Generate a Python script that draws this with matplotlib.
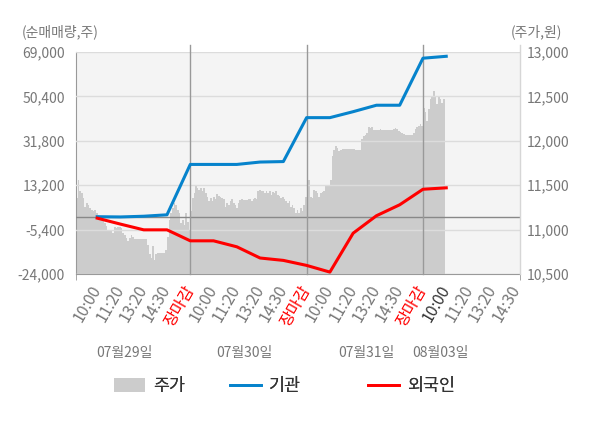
"""Net buying by institutions / foreigners vs. share price (4 sessions)."""
import matplotlib
matplotlib.use("Agg")
import matplotlib.pyplot as plt
import matplotlib.transforms as mtransforms
import numpy as np
from matplotlib.lines import Line2D
from matplotlib.patches import Patch

plt.rcParams["font.family"] = ["Noto Sans CJK KR", "DejaVu Sans"]

# ---- data -------------------------------------------------------------
tick_labels = ["10:00", "11:20", "13:20", "14:30", "장마감",
               "10:00", "11:20", "13:20", "14:30", "장마감",
               "10:00", "11:20", "13:20", "14:30", "장마감",
               "10:00", "11:20", "13:20", "14:30"]
day_labels = ["07월29일", "07월30일", "07월31일", "08월03일"]

# cumulative net buying (shares) at each time slot
inst = [0, -100, 200, 800, 21900, 21900, 21900, 22900, 23100,
        41500, 41500, 44000, 46700, 46700, 66400, 67200]
foreign = [-600, -3100, -5500, -5500, -10100, -10100, -12600, -17300, -18300,
           -20400, -23200, -6900, 400, 5000, 11500, 12100]

# intraday share price (won), one list per session
price_0729 = [11360, 11560, 11430, 11410, 11360, 11260, 11300, 11280, 11240, 11220,
              11210, 11220, 11190, 11170, 11130, 11110, 11120, 11070, 11040, 11000,
              10980, 10980, 10960, 11030, 11020, 11030, 11030, 11020, 10960, 10940,
              10900, 10870, 10900, 10940, 10920, 10890, 10890, 10890, 10890, 10890,
              10890, 10890, 10890, 10830, 10730, 10680, 10810, 10660, 10730, 10740,
              10740, 10740, 10740, 10740, 10770, 10920, 11110, 11190, 11240, 11300,
              11280, 11220, 11190, 11070, 11110, 11050, 11190, 11090, 11000]
price_0730 = [11210, 11360, 11410, 11490, 11470, 11450, 11470, 11430, 11470, 11410,
              11370, 11320, 11360, 11320, 11370, 11340, 11400, 11380, 11370, 11360,
              11340, 11260, 11300, 11280, 11320, 11340, 11300, 11280, 11240, 11300,
              11330, 11340, 11330, 11330, 11330, 11350, 11340, 11320, 11340, 11360,
              11340, 11430, 11450, 11430, 11440, 11410, 11430, 11410, 11430, 11390,
              11420, 11410, 11430, 11390, 11380, 11360, 11370, 11340, 11320, 11300,
              11320, 11260, 11280, 11240, 11190, 11220, 11190, 11240, 11210, 11280,
              11370]
price_0731 = [11750, 11560, 11370, 11360, 11450, 11430, 11410, 11370, 11410, 11420,
              11430, 11490, 11500, 11490, 11560, 11830, 11900, 11940, 11920, 11880,
              11900, 11910, 11910, 11910, 11910, 11910, 11910, 11910, 11910, 11900,
              11900, 11900, 11900, 12020, 12050, 12070, 12090, 12150, 12140, 12150,
              12120, 12120, 12120, 12120, 12130, 12120, 12120, 12120, 12120, 12120,
              12120, 12120, 12130, 12140, 12130, 12110, 12100, 12090, 12080, 12070,
              12070, 12070, 12070, 12070, 12090, 12130, 12150, 12170, 12190, 12170]
price_0803 = [12370, 12320, 12220, 12360, 12470, 12490, 12560, 12510, 12410, 12490,
              12470, 12430, 12470, 12410]

sessions = [price_0729, price_0730, price_0731, price_0803]
session_start = [-0.91, 4, 9, 14]
session_end = [4, 9, 14, 15]
day_label_x = [1.19, 6.31, 11.55, 14.73]

# ---- figure -----------------------------------------------------------
fig = plt.figure(figsize=(6, 4.28), dpi=100)
ax = fig.add_axes([76 / 600, 1 - 274 / 428, 444 / 600, 222 / 428])
ax.set_facecolor("#f4f4f4")
ax2 = ax.twinx()

px, py = [], []
for p, s, e in zip(sessions, session_start, session_end):
    n = len(p)
    px.extend(s + (np.arange(n) + 0.5) * (e - s) / n)
    py.extend(p)
px = np.array(px)
py = np.array(py)
ax.fill_between(px, py, 10500, color="#cccccc", lw=0, step="mid", zorder=1)

ax.set_xlim(-0.91, 18.17)
ax.set_ylim(10500, 13000)
ax.set_yticks(np.arange(10500, 13001, 500))
ax.set_yticklabels([f"{int(v):,}" for v in np.arange(10500, 13001, 500)])
ax.yaxis.set_ticks_position("right")
ax.grid(axis="y", color="#dcdcdc", lw=1)
ax.set_axisbelow(False)
ax.tick_params(axis="y", length=0, pad=5, labelsize=10, labelcolor="#777777")

slots = np.arange(len(inst))
ax2.plot(slots, inst, color="#0683cc", lw=2.2, zorder=5)
ax2.plot(slots, foreign, color="#ff0000", lw=2.2, zorder=5)
ax2.axhline(0, color="#888888", lw=1, zorder=3)
ax2.set_ylim(-24000, 69000)
lt = np.arange(-24000, 69001, 18600)
ax2.set_yticks(lt)
ax2.set_yticklabels([f"{int(v):,}" for v in lt])
ax2.yaxis.set_ticks_position("left")
ax2.tick_params(axis="y", length=0, pad=8, labelsize=10, labelcolor="#777777")

for b in [4, 9, 14]:
    ax2.axvline(b, ymax=1.032, color="#999999", lw=1, clip_on=False, zorder=3)
ax2.axvline(18.17, ymax=1.032, color="#d6d6d6", lw=1, clip_on=False, zorder=3)

for a in (ax, ax2):
    for sp in a.spines.values():
        sp.set_visible(False)
ax.spines["left"].set_visible(True)
ax.spines["bottom"].set_visible(True)
ax.spines["left"].set_color("#999999")
ax.spines["bottom"].set_color("#999999")

ax.set_xticks(np.arange(len(tick_labels)))
ax.set_xticklabels(tick_labels, rotation=60, ha="right", va="center",
                   rotation_mode="anchor")
ax.tick_params(axis="x", length=0, pad=9, labelsize=11.5)
for i, t in enumerate(ax.get_xticklabels()):
    if tick_labels[i] == "장마감":
        t.set_color("#ff0000")
    elif i == 15:
        t.set_color("#333333")
    else:
        t.set_color("#777777")
ax.set_xticks([-0.91, 4, 9, 14, 18.17], minor=True)
ax.tick_params(axis="x", which="minor", length=4, color="#999999")

trans = mtransforms.blended_transform_factory(ax.transData, ax.transAxes)
for x, lab in zip(day_label_x, day_labels):
    ax.text(x, -0.356, lab, transform=trans, ha="center", va="center",
            fontsize=10, color="#777777")

fig.text(22 / 600, 1 - 32 / 428, "(순매매량,주)", ha="left", va="center",
         fontsize=10, color="#777777")
fig.text(562 / 600, 1 - 32 / 428, "(주가,원)", ha="right", va="center",
         fontsize=10, color="#777777")

handles = [Patch(color="#cccccc", lw=0),
           Line2D([], [], color="#0683cc", lw=2),
           Line2D([], [], color="#ff0000", lw=2)]
names = ["주가", "기관", "외국인"]
lefts = [114, 230, 368]
for h, n, x in zip(handles, names, lefts):
    leg = fig.legend([h], [n], loc="center left",
                     bbox_to_anchor=(x / 600, 1 - 386 / 428),
                     frameon=False, borderpad=0, borderaxespad=0,
                     handlelength=1.8, handleheight=0.85, handletextpad=0.45,
                     fontsize=12.5, labelcolor="#333333")
    fig.add_artist(leg)

fig.savefig("out.png", dpi=100)
